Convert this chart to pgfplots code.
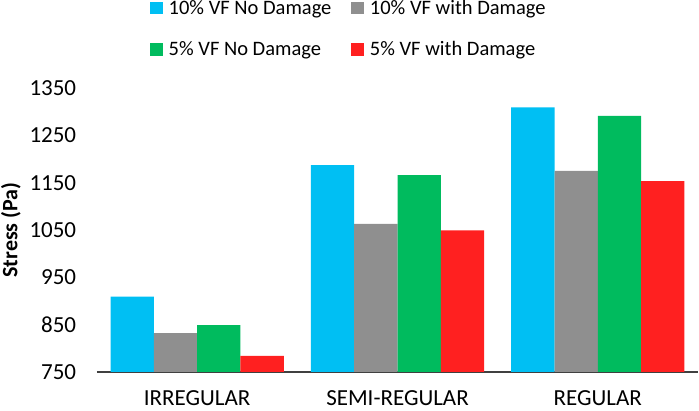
\documentclass[border=0pt]{standalone}
\usepackage{fontspec}
\setmainfont{Carlito}
\usepackage{pgfplots}
\pgfplotsset{compat=1.18}
\definecolor{cblue}{RGB}{0,191,243}
\definecolor{cgray}{RGB}{143,143,143}
\definecolor{cgreen}{RGB}{0,187,94}
\definecolor{cred}{RGB}{255,32,32}
\definecolor{axisgray}{RGB}{64,64,64}
\begin{document}
\fontsize{20}{24}\selectfont
\begin{tikzpicture}
\useasboundingbox (-97pt,-39pt) rectangle (602pt,372pt);
\begin{axis}[
  at={(0,0)}, anchor=south west,
  scale only axis,
  width=601pt, height=284pt,
  ybar=0pt, bar width=43.3pt,
  xmin=-0.5, xmax=2.5,
  ymin=750, ymax=1350,
  xtick={0,1,2},
  xticklabels={IRREGULAR,SEMI-REGULAR,REGULAR},
  ytick={750,850,...,1350},
  axis lines*=left,
  x axis line style={line width=2pt, color=axisgray, -},
  y axis line style={draw=none},
  major tick length=0pt,
  tick label style={font=\fontsize{23}{26}\selectfont},
  /pgf/number format/assume math mode=true,
  /pgf/number format/1000 sep={},
  yticklabel style={xshift=-14pt},
  xticklabel style={yshift=-11.5pt},
  legend columns=2,
  legend image code/.code={\fill[#1] (0pt,0pt) rectangle (12.5pt,12.5pt);},
  legend style={draw=none, fill=none, inner sep=0pt,
    at={(axis description cs:0.0882,1.31)}, anchor=north west,
    nodes={inner sep=0pt, anchor=base west},
    font=\fontsize{20.5}{24}\selectfont,
    row sep=24pt,
    /tikz/every odd column/.append style={column sep=6pt},
    /tikz/every even column/.append style={column sep=20pt}},
  legend cell align=left,
  clip=false,
]
\addplot[draw=none, fill=cblue] coordinates {(0,909) (1,1187) (2,1309)};
\addplot[draw=none, fill=cgray] coordinates {(0,832) (1,1063) (2,1175)};
\addplot[draw=none, fill=cgreen] coordinates {(0,849) (1,1166) (2,1291)};
\addplot[draw=none, fill=cred] coordinates {(0,784) (1,1049) (2,1153)};
\legend{10\% VF No Damage, 10\% VF with Damage, 5\% VF No Damage, 5\% VF with Damage}
\node[rotate=90, font=\bfseries\fontsize{22}{26}\selectfont] at ([xshift=-86pt]axis description cs:0,0.5) {Stress (Pa)};
\end{axis}
\end{tikzpicture}
\end{document}
